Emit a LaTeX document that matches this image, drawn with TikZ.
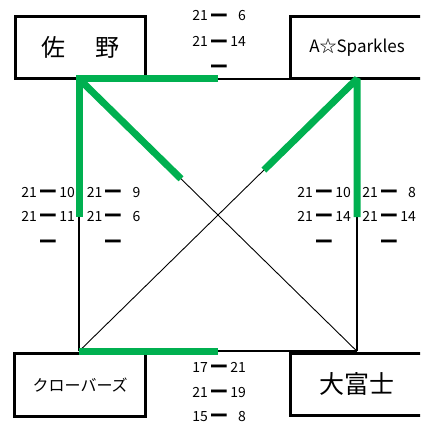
\documentclass[tikz,border=0pt]{standalone}
\usepackage{fontspec}
\setmainfont{Noto Sans CJK JP}
\usetikzlibrary{calc}
\definecolor{grn}{HTML}{00B050}
\newcommand\thickdash{\makebox[14pt]{\raisebox{-3.5pt}[8pt][0pt]{\scalebox{1.12}[1.7]{\bfseries ━}}}}
\newcommand\scorerow[2]{\raisebox{0pt}[\height][0pt]{\makebox[16pt][r]{#1}\hspace{4pt}\thickdash\hspace{4pt}\makebox[16pt][r]{#2}}}
\newcommand\dashonly{\thickdash}
\begin{document}
\begin{tikzpicture}[x=1pt,y=-1pt,
  team/.style={draw, line width=3pt, minimum width=#1, minimum height=62pt, inner sep=0pt},
  thinline/.style={line width=2pt},
  diagline/.style={line width=0.9pt},
  win/.style={grn, line width=7pt},
  sc/.style={font=\fontsize{14}{14}\selectfont, anchor=base, inner sep=0pt}]
\useasboundingbox (0,0) rectangle (420,425);
\clip (0,0) rectangle (420,425);
% teams
\node[team=130.4pt, font=\fontsize{24}{24}\selectfont] (sano) at (80.5,47.7) {佐　\kern7pt野};
\node[team=133pt, font=\fontsize{17}{17}\selectfont] (spark) at (357,47.9) {A☆Sparkles};
\node[team=131pt, minimum height=62.6pt, font=\fontsize{16}{16}\selectfont] (clover) at (80.2,385) {クローバーズ};
\node[team=133pt, font=\fontsize{25}{25}\selectfont] (fuji) at (357,384.3) {大富士};
% corners
\coordinate (tl) at (79,78.8);
\coordinate (tr) at (357,78.8);
\coordinate (bl) at (79,351.3);
\coordinate (br) at (357,351.3);
% thin lines
\draw[thinline] (tl) -- (tr);
\draw[thinline] (bl) -- (br);
\draw[thinline] (tl) -- (bl);
\draw[thinline] (tr) -- (br);
\draw[diagline] (tl) -- (br);
\draw[diagline] (tr) -- (bl);
% winner lines
\coordinate (gt) at (218,78.8);
\coordinate (gl) at (79,217);
\coordinate (gr) at (357,217);
\coordinate (gb) at (218,351.3);
\coordinate (gd1) at ($(tl)!0.367!(br)$);
\coordinate (gd2) at ($(tr)!0.335!(bl)$);
\draw[win, line join=miter] (gt) -- (tl) -- (gl);
\draw[win] (tl) -- (gd1);
\draw[win, line join=bevel] (gd2) -- (tr) -- (gr);
\draw[win] (bl) -- (gb);
% scores top
\node[sc] (t1) at (219,21) {\scorerow{21}{6}};
\node[sc] (t2) at (219,47) {\scorerow{21}{14}};
\node[sc] (t3) at (219,72) {\dashonly};
% scores bottom
\node[sc] (b1) at (219,372) {\scorerow{17}{21}};
\node[sc] (b2) at (219,397) {\scorerow{21}{19}};
\node[sc] (b3) at (219,421) {\scorerow{15}{8}};
% left
\node[sc] (l1) at (48,197) {\scorerow{21}{10}};
\node[sc] (l2) at (48,221) {\scorerow{21}{11}};
\node[sc] (l3) at (48,247) {\dashonly};
\node[sc] (m1) at (113.5,197) {\scorerow{21}{9}};
\node[sc] (m2) at (113.5,221) {\scorerow{21}{6}};
\node[sc] (m3) at (113.5,247) {\dashonly};
% right
\node[sc] (r1) at (324,197) {\scorerow{21}{10}};
\node[sc] (r2) at (324,221) {\scorerow{21}{14}};
\node[sc] (r3) at (324,247) {\dashonly};
\node[sc] (s1) at (389,197) {\scorerow{21}{8}};
\node[sc] (s2) at (389,221) {\scorerow{21}{14}};
\node[sc] (s3) at (389,247) {\dashonly};
\end{tikzpicture}
\end{document}
